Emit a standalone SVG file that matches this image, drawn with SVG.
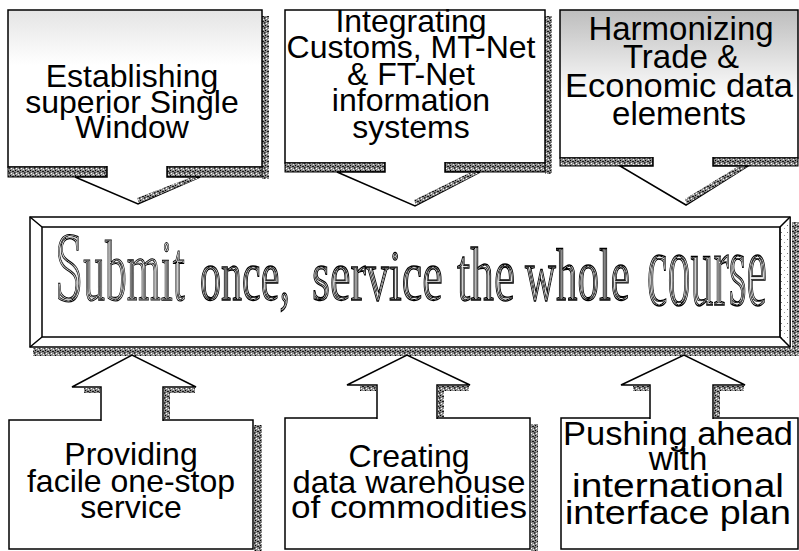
<svg xmlns="http://www.w3.org/2000/svg" width="799" height="551" viewBox="0 0 799 551">
<defs>
<pattern id="tex" width="5" height="5" patternUnits="userSpaceOnUse">
<rect width="5" height="5" fill="#8c8c8c"/>
<rect x="0" y="0" width="1" height="1" fill="#000"/>
<rect x="2" y="1" width="2" height="1" fill="#1a1a1a"/>
<rect x="1" y="3" width="1" height="1" fill="#fff"/>
<rect x="4" y="2" width="1" height="2" fill="#333"/>
<rect x="3" y="4" width="1" height="1" fill="#eee"/>
<rect x="0" y="2" width="1" height="1" fill="#555"/>
</pattern>
<pattern id="dots" width="6" height="7" patternUnits="userSpaceOnUse">
<rect width="6" height="7" fill="#fff"/>
<rect x="1" y="1" width="1" height="1" fill="#777"/>
<rect x="4" y="4" width="1" height="1" fill="#999"/>
</pattern>
<linearGradient id="gTL" x1="0" y1="0" x2="0" y2="1">
<stop offset="0" stop-color="#e4e4e4"/>
<stop offset="0.35" stop-color="#fff"/>
</linearGradient>
<linearGradient id="gTR" x1="0" y1="0" x2="0" y2="1">
<stop offset="0" stop-color="#bdbdbd"/>
<stop offset="0.6" stop-color="#fff"/>
</linearGradient>
<filter id="dbl" x="-5%" y="-20%" width="110%" height="140%">
<feMorphology in="SourceAlpha" operator="erode" radius="1.4" result="e1"/>
<feMorphology in="SourceAlpha" operator="erode" radius="2.2" result="e2"/>
<feComposite in="e1" in2="e2" operator="out" result="ring"/>
<feMerge><feMergeNode in="SourceGraphic"/><feMergeNode in="ring"/></feMerge>
</filter>
</defs>
<style>
.box{stroke:#000;stroke-width:1.5}
.plain{fill:#fff}
.tex{fill:url(#tex)}
.strip{fill:url(#tex);stroke:#000;stroke-width:1}
.arrow{fill:#fff;stroke:#000;stroke-width:1.5;stroke-linejoin:miter}
.lbl{font-family:"Liberation Sans",Arial,sans-serif;font-size:32px;fill:#000;text-anchor:middle}
.wa text{font-family:"Liberation Serif","Times New Roman",serif;fill:#fff;stroke:#000;stroke-width:1.1;vector-effect:non-scaling-stroke}
.line{stroke:#000;stroke-width:1.5;fill:none}
</style>
<rect width="799" height="551" fill="#fff"/>

<g id="node-single-window">
<rect class="tex" x="262" y="16" width="7" height="163"/>
<rect class="box" x="8" y="10" width="254" height="157" fill="url(#gTL)"/>
<rect class="strip" x="8" y="167" width="99" height="10"/>
<rect class="strip" x="167" y="167" width="95" height="10"/>
<text class="lbl"><tspan x="132" y="87">Establishing</tspan><tspan x="132" y="113">superior Single</tspan><tspan x="132" y="138">Window</tspan></text>
</g>

<g id="node-integrating">
<rect class="tex" x="545" y="16" width="7" height="158"/>
<rect class="box plain" x="285" y="10" width="260" height="153"/>
<rect class="strip" x="285" y="163" width="100" height="9"/>
<rect class="strip" x="445" y="163" width="100" height="9"/>
<text class="lbl"><tspan x="411" y="32">Integrating</tspan><tspan x="411" y="58">Customs, MT-Net</tspan><tspan x="411" y="85">&amp; FT-Net</tspan><tspan x="411" y="111">information</tspan><tspan x="411" y="138">systems</tspan></text>
</g>

<g id="node-harmonizing">
<rect class="box" x="560" y="10" width="238" height="148" fill="url(#gTR)"/>
<rect class="strip" x="560" y="158" width="93" height="8"/>
<rect class="strip" x="713" y="158" width="85" height="8"/>
<text class="lbl" style="font-size:33px"><tspan x="681" y="40">Harmonizing</tspan><tspan x="681" y="68">Trade &amp;</tspan><tspan x="679" y="97" textLength="228" lengthAdjust="spacingAndGlyphs">Economic data</tspan><tspan x="679" y="125">elements</tspan></text>
</g>

<g id="node-submit">
<rect class="tex" x="792" y="222" width="7" height="134"/>
<rect class="tex" x="33" y="348" width="766" height="8"/>
<rect class="box plain" x="30" y="217" width="760" height="130"/>
<polygon points="780,227 790,217 790,347 780,337" fill="url(#dots)" stroke="#000" stroke-width="1"/>
<rect class="line" x="42" y="227" width="738" height="110"/>
<path class="line" d="M30,217 L42,227 M790,217 L780,227 M30,347 L42,337 M790,347 L780,337"/>
<g class="wa" filter="url(#dbl)">
<text transform="matrix(0.507,0,0,1,55,300)"><tspan font-size="100">S</tspan><tspan font-size="86">ubmit</tspan></text>
<text transform="matrix(0.585,0,0,1,200,300)" font-size="72">once,</text>
<text transform="matrix(0.642,0,0,1,312,300)" font-size="72">service</text>
<text transform="matrix(0.624,0,0,1,457,300)" font-size="76">the</text>
<text transform="matrix(0.58,0,0,1,525,300)" font-size="74">whole</text>
<text transform="matrix(0.438,0,0,1,647,305)" font-size="105">course</text>
</g>
</g>

<g id="node-one-stop">
<rect class="tex" x="254" y="425" width="8" height="126"/>
<rect class="box plain" x="9" y="420" width="244" height="129"/>
<text class="lbl"><tspan x="131" y="465">Providing</tspan><tspan x="131" y="492">facile one-stop</tspan><tspan x="131" y="518">service</tspan></text>
</g>

<g id="node-warehouse">
<rect class="tex" x="531" y="424" width="7" height="127"/>
<rect class="box plain" x="285" y="418" width="245" height="131"/>
<text class="lbl"><tspan x="409" y="467">Creating</tspan><tspan x="409" y="493" textLength="233" lengthAdjust="spacingAndGlyphs">data warehouse</tspan><tspan x="409" y="518" textLength="236" lengthAdjust="spacingAndGlyphs">of commodities</tspan></text>
</g>

<g id="node-interface">
<rect class="box plain" x="561" y="418" width="237" height="131"/>
<text class="lbl" style="font-size:33px"><tspan x="678" y="445" textLength="230" lengthAdjust="spacingAndGlyphs">Pushing ahead</tspan><tspan x="678" y="470">with</tspan><tspan x="678" y="497" textLength="212" lengthAdjust="spacingAndGlyphs">international</tspan><tspan x="678" y="524" textLength="226" lengthAdjust="spacingAndGlyphs">interface plan</tspan></text>
</g>

<g id="connectors">
<path class="arrow" d="M107,166 V177 H75 L138,204 L200,177 H167 V166"/>
<polygon class="tex" points="139,203 199,178 189,178 137,198"/>
<path class="arrow" d="M385,162 V172 H337 L415,206 L480,172 H445 V162"/>
<polygon class="tex" points="416,205 479,173 469,173 414,200"/>
<path class="arrow" d="M653,157 V166 H620 L686,205 L748,166 H713 V157"/>
<polygon class="tex" points="687,204 747,167 737,167 685,199"/>

<path class="arrow" d="M101,421 V387 H72 L132,355 L196,387 H163 V421"/>
<rect class="tex" x="84" y="388" width="16" height="5"/>
<rect class="tex" x="164" y="388" width="31" height="5"/>
<rect class="tex" x="164" y="388" width="6" height="31"/>
<path class="arrow" d="M377,419 V385 H347 L407,355 L470,385 H437 V419"/>
<rect class="tex" x="360" y="386" width="16" height="5"/>
<rect class="tex" x="438" y="386" width="31" height="5"/>
<rect class="tex" x="438" y="386" width="6" height="31"/>
<path class="arrow" d="M650,419 V385 H621 L684,355 L745,385 H713 V419"/>
<rect class="tex" x="633" y="386" width="16" height="5"/>
<rect class="tex" x="714" y="386" width="30" height="5"/>
<rect class="tex" x="714" y="386" width="6" height="31"/>
</g>
</svg>
